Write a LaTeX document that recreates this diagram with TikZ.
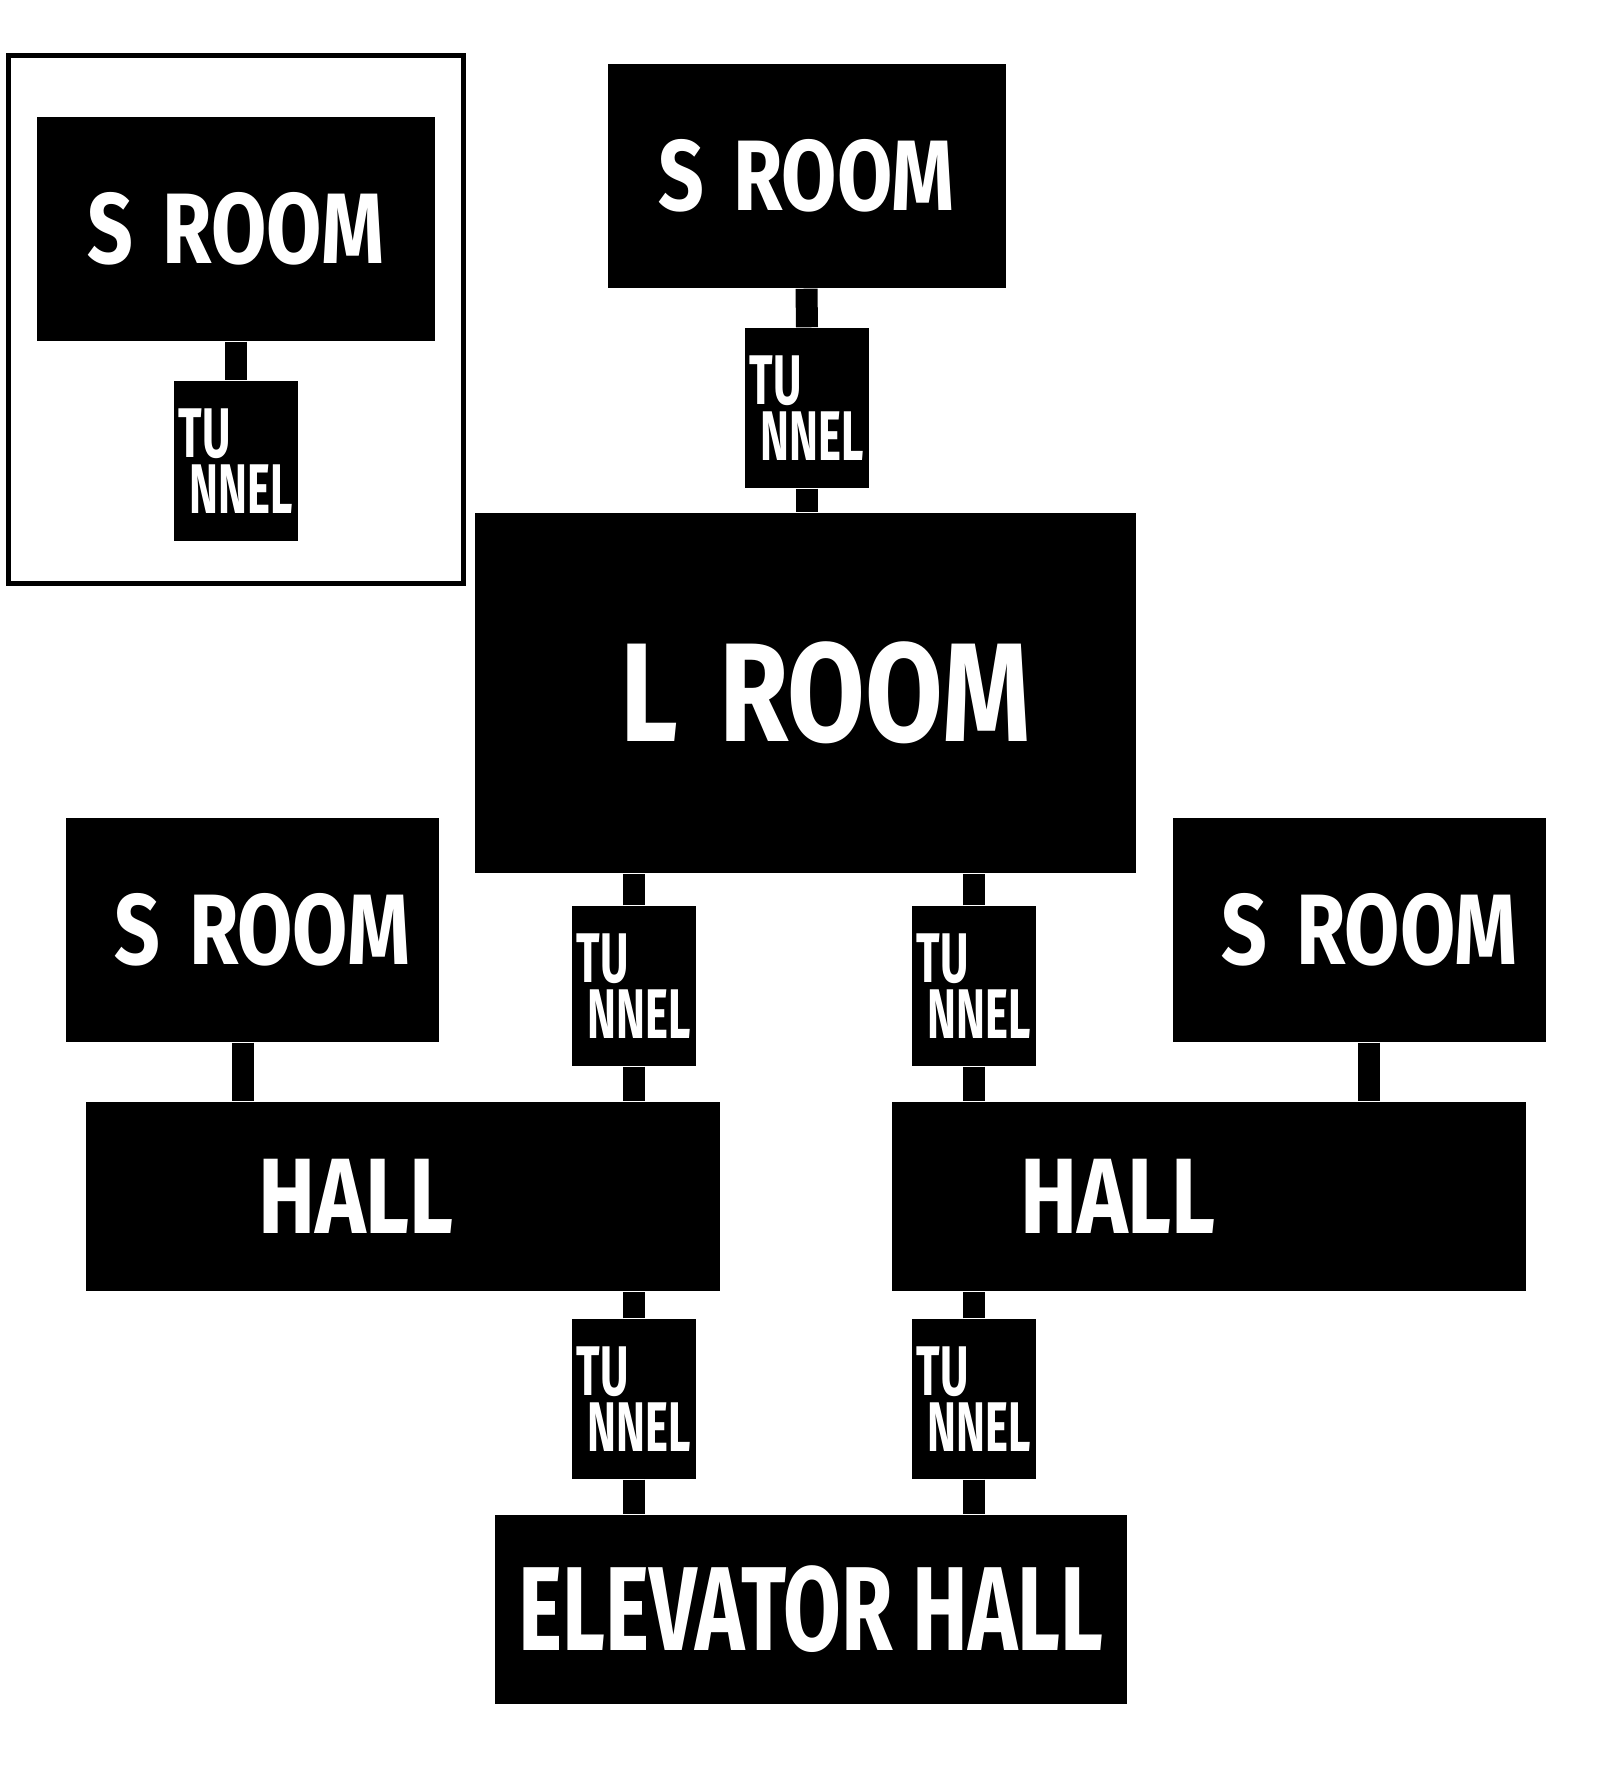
\documentclass[tikz,border=0pt]{standalone}
\usepackage{fontspec}
\newfontfamily\handfont{Fira Sans}[FakeStretch=0.8]
\newfontfamily\narrowhand{Fira Sans}[FakeStretch=0.7]
\newfontfamily\tunnelhand{Fira Sans}[FakeStretch=0.62]
\usetikzlibrary{calc}

\begin{document}
\begin{tikzpicture}[
    box/.style={rectangle, fill=black, text=white, inner sep=0pt},
    sroom/.style={box, minimum width=3.98cm, minimum height=2.24cm, font=\handfont\bfseries\fontsize{28.5}{28.5}\selectfont},
    hall/.style={box, minimum width=6.34cm, minimum height=1.89cm, font=\handfont\bfseries\fontsize{30.5}{30.5}\selectfont},
    tunnel/.style={box, minimum width=1.24cm, minimum height=1.60cm, align=left, font=\tunnelhand\bfseries\fontsize{20}{16}\selectfont},
    link/.style={draw=black, line width=0.22cm}]

    \useasboundingbox (0,0) rectangle (16.12,-17.86);
    \fill[white] (0,0) rectangle (16.12,-17.86);

    % legend frame
    \draw[line width=0.05cm] (0.085,-0.555) rectangle (4.635,-5.835);
    \node[sroom] (sroomA) at (2.36,-2.29) {S\hspace{0.1cm} ROOM};

    % rooms
    \node[sroom] (sroomB) at (8.065,-1.76) {S\hspace{0.1cm} ROOM};
    \node[box, minimum width=6.61cm, minimum height=3.60cm, font=\handfont\bfseries\fontsize{40}{40}\selectfont] (lroom) at (8.055,-6.93) {\hspace*{0.4cm}L\hspace{0.15cm} ROOM};
    \node[sroom, minimum width=3.73cm] (sroomC) at (2.525,-9.30) {\hspace*{0.2cm}S\hspace{0.1cm} ROOM};
    \node[sroom, minimum width=3.73cm] (sroomD) at (13.595,-9.30) {\hspace*{0.2cm}S\hspace{0.1cm} ROOM};
    \node[hall] (hallL) at (4.03,-11.965) {HALL\hspace*{0.94cm}};
    \node[hall] (hallR) at (12.09,-11.965) {HALL\hspace*{1.82cm}};
    \node[box, minimum width=6.32cm, minimum height=1.89cm, font=\narrowhand\bfseries\fontsize{34}{34}\selectfont] (elev) at (8.11,-16.095) {ELEVATOR HALL};

    % tunnels
    \foreach \n/\x/\y in {tunA/2.36/-4.61, tunB/8.07/-4.08, tunC/6.335/-9.86,
                          tunD/9.74/-9.86, tunE/6.335/-13.99, tunF/9.74/-13.99} {
        \node[tunnel] (\n) at (\x,\y) {TU\\\hspace*{0.11cm}NNEL};
    }

    % links
    \draw[link] (sroomA.south) -- (tunA.north);
    \draw[link] (sroomB.south) -- (tunB.north);
    \draw[link] (tunB.south) -- (tunB.south |- lroom.north);
    \foreach \t/\h in {tunC/hallL, tunD/hallR} {
        \draw[link] (\t.north) -- (\t.north |- lroom.south);
        \draw[link] (\t.south) -- (\t.south |- \h.north);
    }
    \foreach \t/\h in {tunE/hallL, tunF/hallR} {
        \draw[link] (\t.north) -- (\t.north |- \h.south);
        \draw[link] (\t.south) -- (\t.south |- elev.north);
    }
    \draw[link] ($(sroomC.south)+(-0.095,0)$) coordinate (c1) -- (c1 |- hallL.north);
    \draw[link] ($(sroomD.south)+(0.095,0)$) coordinate (c2) -- (c2 |- hallR.north);
\end{tikzpicture}
\end{document}
